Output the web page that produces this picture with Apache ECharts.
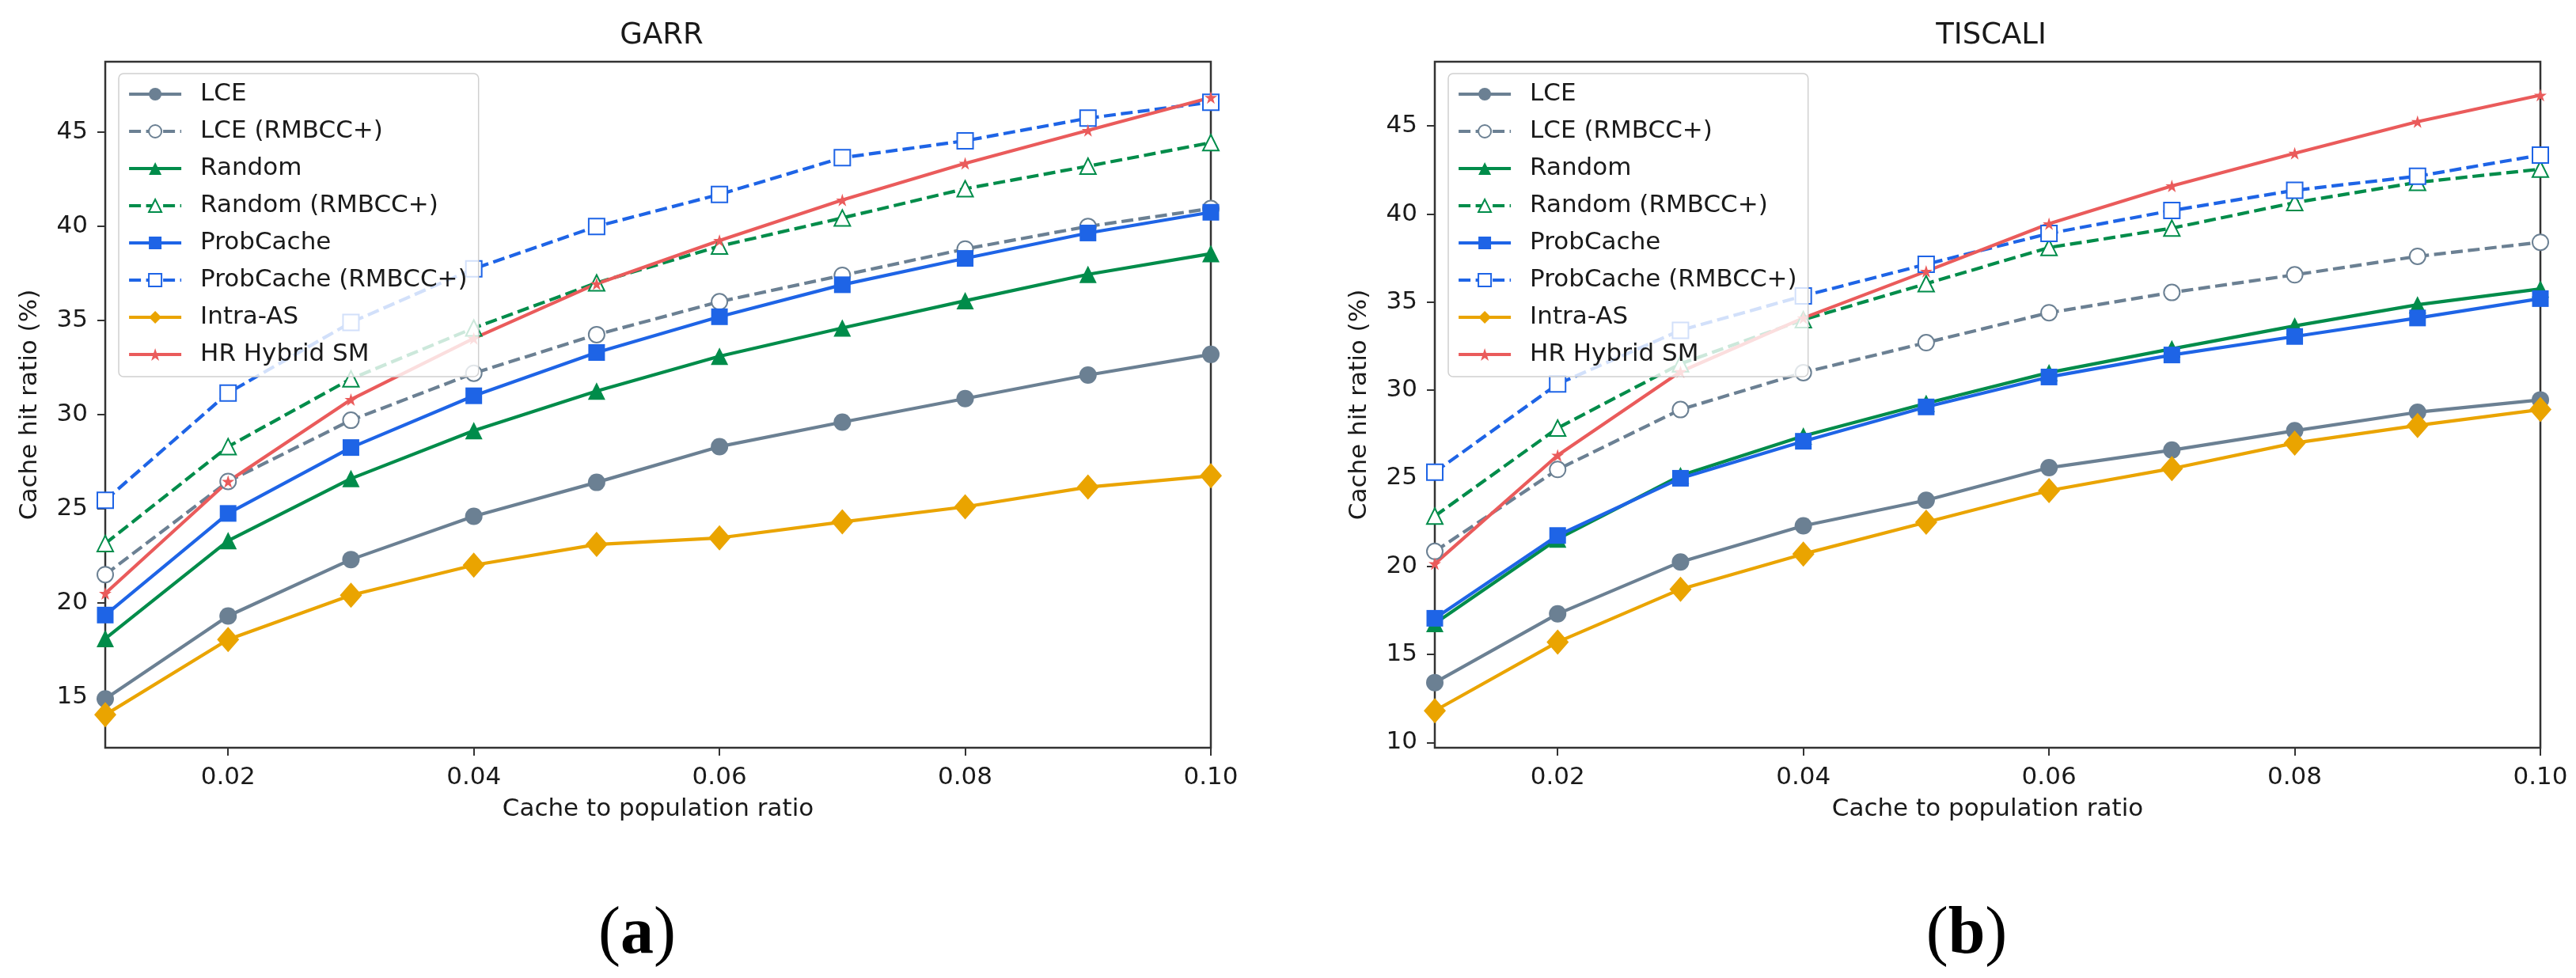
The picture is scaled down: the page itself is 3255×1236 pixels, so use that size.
<!DOCTYPE html>
<html>
<head>
<meta charset="utf-8">
<title>Cache hit ratio - GARR / TISCALI</title>
<script src="https://cdn.jsdelivr.net/npm/echarts@6/dist/echarts.min.js"></script>
<style>
  html, body { margin: 0; padding: 0; background: #fff; }
  #chart { width: 3255px; height: 1236px; }
</style>
</head>
<body>
<div id="chart"></div>
<script>
// x values: cache to population ratio
const ratios = [0.01, 0.02, 0.03, 0.04, 0.05, 0.06, 0.07, 0.08, 0.09, 0.10];
const xTicks = [0.02, 0.04, 0.06, 0.08, 0.10];
const garrYTicks = [15, 20, 25, 30, 35, 40, 45];
const tiscaliYTicks = [10, 15, 20, 25, 30, 35, 40, 45];

const seriesNames = [
  "LCE", "LCE (RMBCC+)", "Random", "Random (RMBCC+)",
  "ProbCache", "ProbCache (RMBCC+)", "Intra-AS", "HR Hybrid SM"
];

// GARR (a)
const garrLCE        = [14.9, 19.3, 22.3, 24.6, 26.4, 28.3, 29.6, 30.85, 32.1, 33.2];
const garrLCEPlus    = [21.5, 26.45, 29.7, 32.2, 34.25, 36.0, 37.4, 38.8, 40.0, 40.95];
const garrRandom     = [18.1, 23.3, 26.6, 29.15, 31.25, 33.1, 34.6, 36.05, 37.45, 38.55];
const garrRandomPlus = [23.15, 28.3, 31.9, 34.6, 37.0, 38.95, 40.45, 42.0, 43.2, 44.45];
const garrProb       = [19.35, 24.75, 28.25, 31.0, 33.3, 35.2, 36.9, 38.3, 39.65, 40.75];
const garrProbPlus   = [25.45, 31.15, 34.9, 37.75, 40.0, 41.7, 43.65, 44.55, 45.75, 46.6];
const garrIntraAS    = [14.05, 18.05, 20.4, 22.0, 23.1, 23.45, 24.3, 25.1, 26.15, 26.75];
const garrHybrid     = [20.5, 26.45, 30.8, 34.05, 36.95, 39.25, 41.4, 43.35, 45.1, 46.85];

// TISCALI (b)
const tiscaliLCE        = [13.4, 17.3, 20.25, 22.3, 23.75, 25.6, 26.6, 27.7, 28.75, 29.45];
const tiscaliLCEPlus    = [20.85, 25.5, 28.9, 31.0, 32.7, 34.4, 35.55, 36.55, 37.6, 38.4];
const tiscaliRandom     = [16.75, 21.55, 25.15, 27.4, 29.25, 31.0, 32.35, 33.65, 34.85, 35.75];
const tiscaliRandomPlus = [22.85, 27.85, 31.5, 34.0, 36.05, 38.1, 39.2, 40.65, 41.8, 42.55];
const tiscaliProb       = [17.05, 21.75, 25.0, 27.1, 29.05, 30.75, 32.0, 33.05, 34.1, 35.2];
const tiscaliProbPlus   = [25.35, 30.35, 33.4, 35.35, 37.15, 38.9, 40.2, 41.35, 42.15, 43.35];
const tiscaliIntraAS    = [11.8, 15.7, 18.7, 20.7, 22.5, 24.3, 25.55, 27.0, 28.0, 28.9];
const tiscaliHybrid     = [20.15, 26.3, 31.05, 34.1, 36.75, 39.45, 41.6, 43.45, 45.25, 46.75];

const garrValues = [garrLCE, garrLCEPlus, garrRandom, garrRandomPlus, garrProb, garrProbPlus, garrIntraAS, garrHybrid];
const tiscaliValues = [tiscaliLCE, tiscaliLCEPlus, tiscaliRandom, tiscaliRandomPlus, tiscaliProb, tiscaliProbPlus, tiscaliIntraAS, tiscaliHybrid];

const FONT = "DejaVu Sans";
const TEXT = "#1a1a1a";
const STAR = "path://M50,0 L61.8,36.2 L100,36.2 L69.1,58.6 L80.9,95.1 L50,72.7 L19.1,95.1 L30.9,58.6 L0,36.2 L38.2,36.2 Z";
const DASH = [15, 6.5];

// look of each method (same in both panels)
const looks = [
  { color: "#6b8093", symbol: "circle", size: 22, dashed: false },
  { color: "#6b8093", symbol: "emptyCircle", size: 20, dashed: true },
  { color: "#008c4a", symbol: "triangle", size: 22, dashed: false },
  { color: "#008c4a", symbol: "emptyTriangle", size: 20, dashed: true },
  { color: "#1e64e6", symbol: "rect", size: 21, dashed: false },
  { color: "#1e64e6", symbol: "emptyRect", size: 20, dashed: true },
  { color: "#eaa400", symbol: "diamond", size: [28, 32], dashed: false },
  { color: "#ea5b5b", symbol: STAR, size: 16, dashed: false }
];

function makeSeries(values, axisIndex) {
  return values.map((vals, i) => {
    const look = looks[i];
    return {
      name: seriesNames[i],
      type: "line",
      xAxisIndex: axisIndex,
      yAxisIndex: axisIndex,
      data: ratios.map((x, k) => [x, vals[k]]),
      symbol: look.symbol,
      symbolSize: look.size,
      showAllSymbol: true,
      clip: true,
      animation: false,
      lineStyle: { color: look.color, width: 4.2, type: look.dashed ? DASH : "solid" },
      itemStyle: { color: look.color, borderColor: look.color, borderWidth: look.symbol.indexOf("empty") === 0 ? 3.4 : 0 },
      emphasis: { disabled: true }
    };
  });
}

function makeLegend(left) {
  return {
    data: seriesNames,
    orient: "vertical",
    left: left,
    top: 93,
    padding: [10, 14, 12, 11],
    itemWidth: 66,
    itemHeight: 20,
    itemGap: 15,
    lineStyle: { width: 4.2 },
    backgroundColor: "rgba(255,255,255,0.8)",
    borderColor: "#d0d0d0",
    borderWidth: 1.5,
    borderRadius: 6,
    selectedMode: false,
    textStyle: { fontFamily: FONT, fontSize: 31, color: TEXT, lineHeight: 32, padding: [0, 0, 0, 19] }
  };
}

function makeXAxis(gridIndex) {
  return {
    gridIndex: gridIndex,
    type: "value",
    min: 0.01,
    max: 0.10,
    name: "Cache to population ratio",
    nameLocation: "middle",
    nameGap: 62,
    nameTextStyle: { fontFamily: FONT, fontSize: 31, color: TEXT },
    axisLine: { show: false },
    axisTick: { show: true, customValues: xTicks, length: 10, lineStyle: { color: "#333", width: 2 } },
    axisLabel: {
      customValues: xTicks, margin: 22, fontFamily: FONT, fontSize: 31, color: TEXT,
      formatter: v => v.toFixed(2)
    },
    splitLine: { show: false }
  };
}

function makeYAxis(gridIndex, min, max, ticks) {
  return {
    gridIndex: gridIndex,
    type: "value",
    min: min,
    max: max,
    name: "Cache hit ratio (%)",
    nameLocation: "middle",
    nameGap: 80,
    nameTextStyle: { fontFamily: FONT, fontSize: 31, color: TEXT },
    axisLine: { show: false },
    axisTick: { show: true, customValues: ticks, length: 10, lineStyle: { color: "#333", width: 2 } },
    axisLabel: { customValues: ticks, margin: 22, fontFamily: FONT, fontSize: 31, color: TEXT },
    splitLine: { show: false }
  };
}

const panelLabel = {
  n: { fontFamily: "Liberation Serif", fontSize: 84, fontWeight: "normal", color: "#000" },
  b: { fontFamily: "Liberation Serif", fontSize: 84, fontWeight: "bold", color: "#000" }
};

const chart = echarts.init(document.getElementById("chart"), null, { renderer: "canvas" });

const option = {
  backgroundColor: "#fff",
  animation: false,
  title: [
    { text: "GARR", left: 831, top: 22, textAlign: "center",
      textStyle: { fontFamily: FONT, fontSize: 37, fontWeight: "normal", color: TEXT } },
    { text: "TISCALI", left: 2511, top: 22, textAlign: "center",
      textStyle: { fontFamily: FONT, fontSize: 37, fontWeight: "normal", color: TEXT } },
    { text: "{n|(}{b|a}{n|)}", left: 800, top: 1135, textAlign: "center",
      textStyle: { fontWeight: "normal", rich: panelLabel } },
    { text: "{n|(}{b|b}{n|)}", left: 2480, top: 1135, textAlign: "center",
      textStyle: { fontWeight: "normal", rich: panelLabel } }
  ],
  grid: [
    { left: 133, right: 1725, top: 78, bottom: 291, show: true, borderColor: "#333", borderWidth: 2.5, backgroundColor: "#fff" },
    { left: 1813, right: 45, top: 78, bottom: 291, show: true, borderColor: "#333", borderWidth: 2.5, backgroundColor: "#fff" }
  ],
  legend: [makeLegend(150), makeLegend(1830)],
  xAxis: [makeXAxis(0), makeXAxis(1)],
  yAxis: [makeYAxis(0, 12.3, 48.75, garrYTicks), makeYAxis(1, 9.7, 48.65, tiscaliYTicks)],
  series: makeSeries(garrValues, 0).concat(makeSeries(tiscaliValues, 1))
};

chart.setOption(option);
</script>
</body>
</html>
